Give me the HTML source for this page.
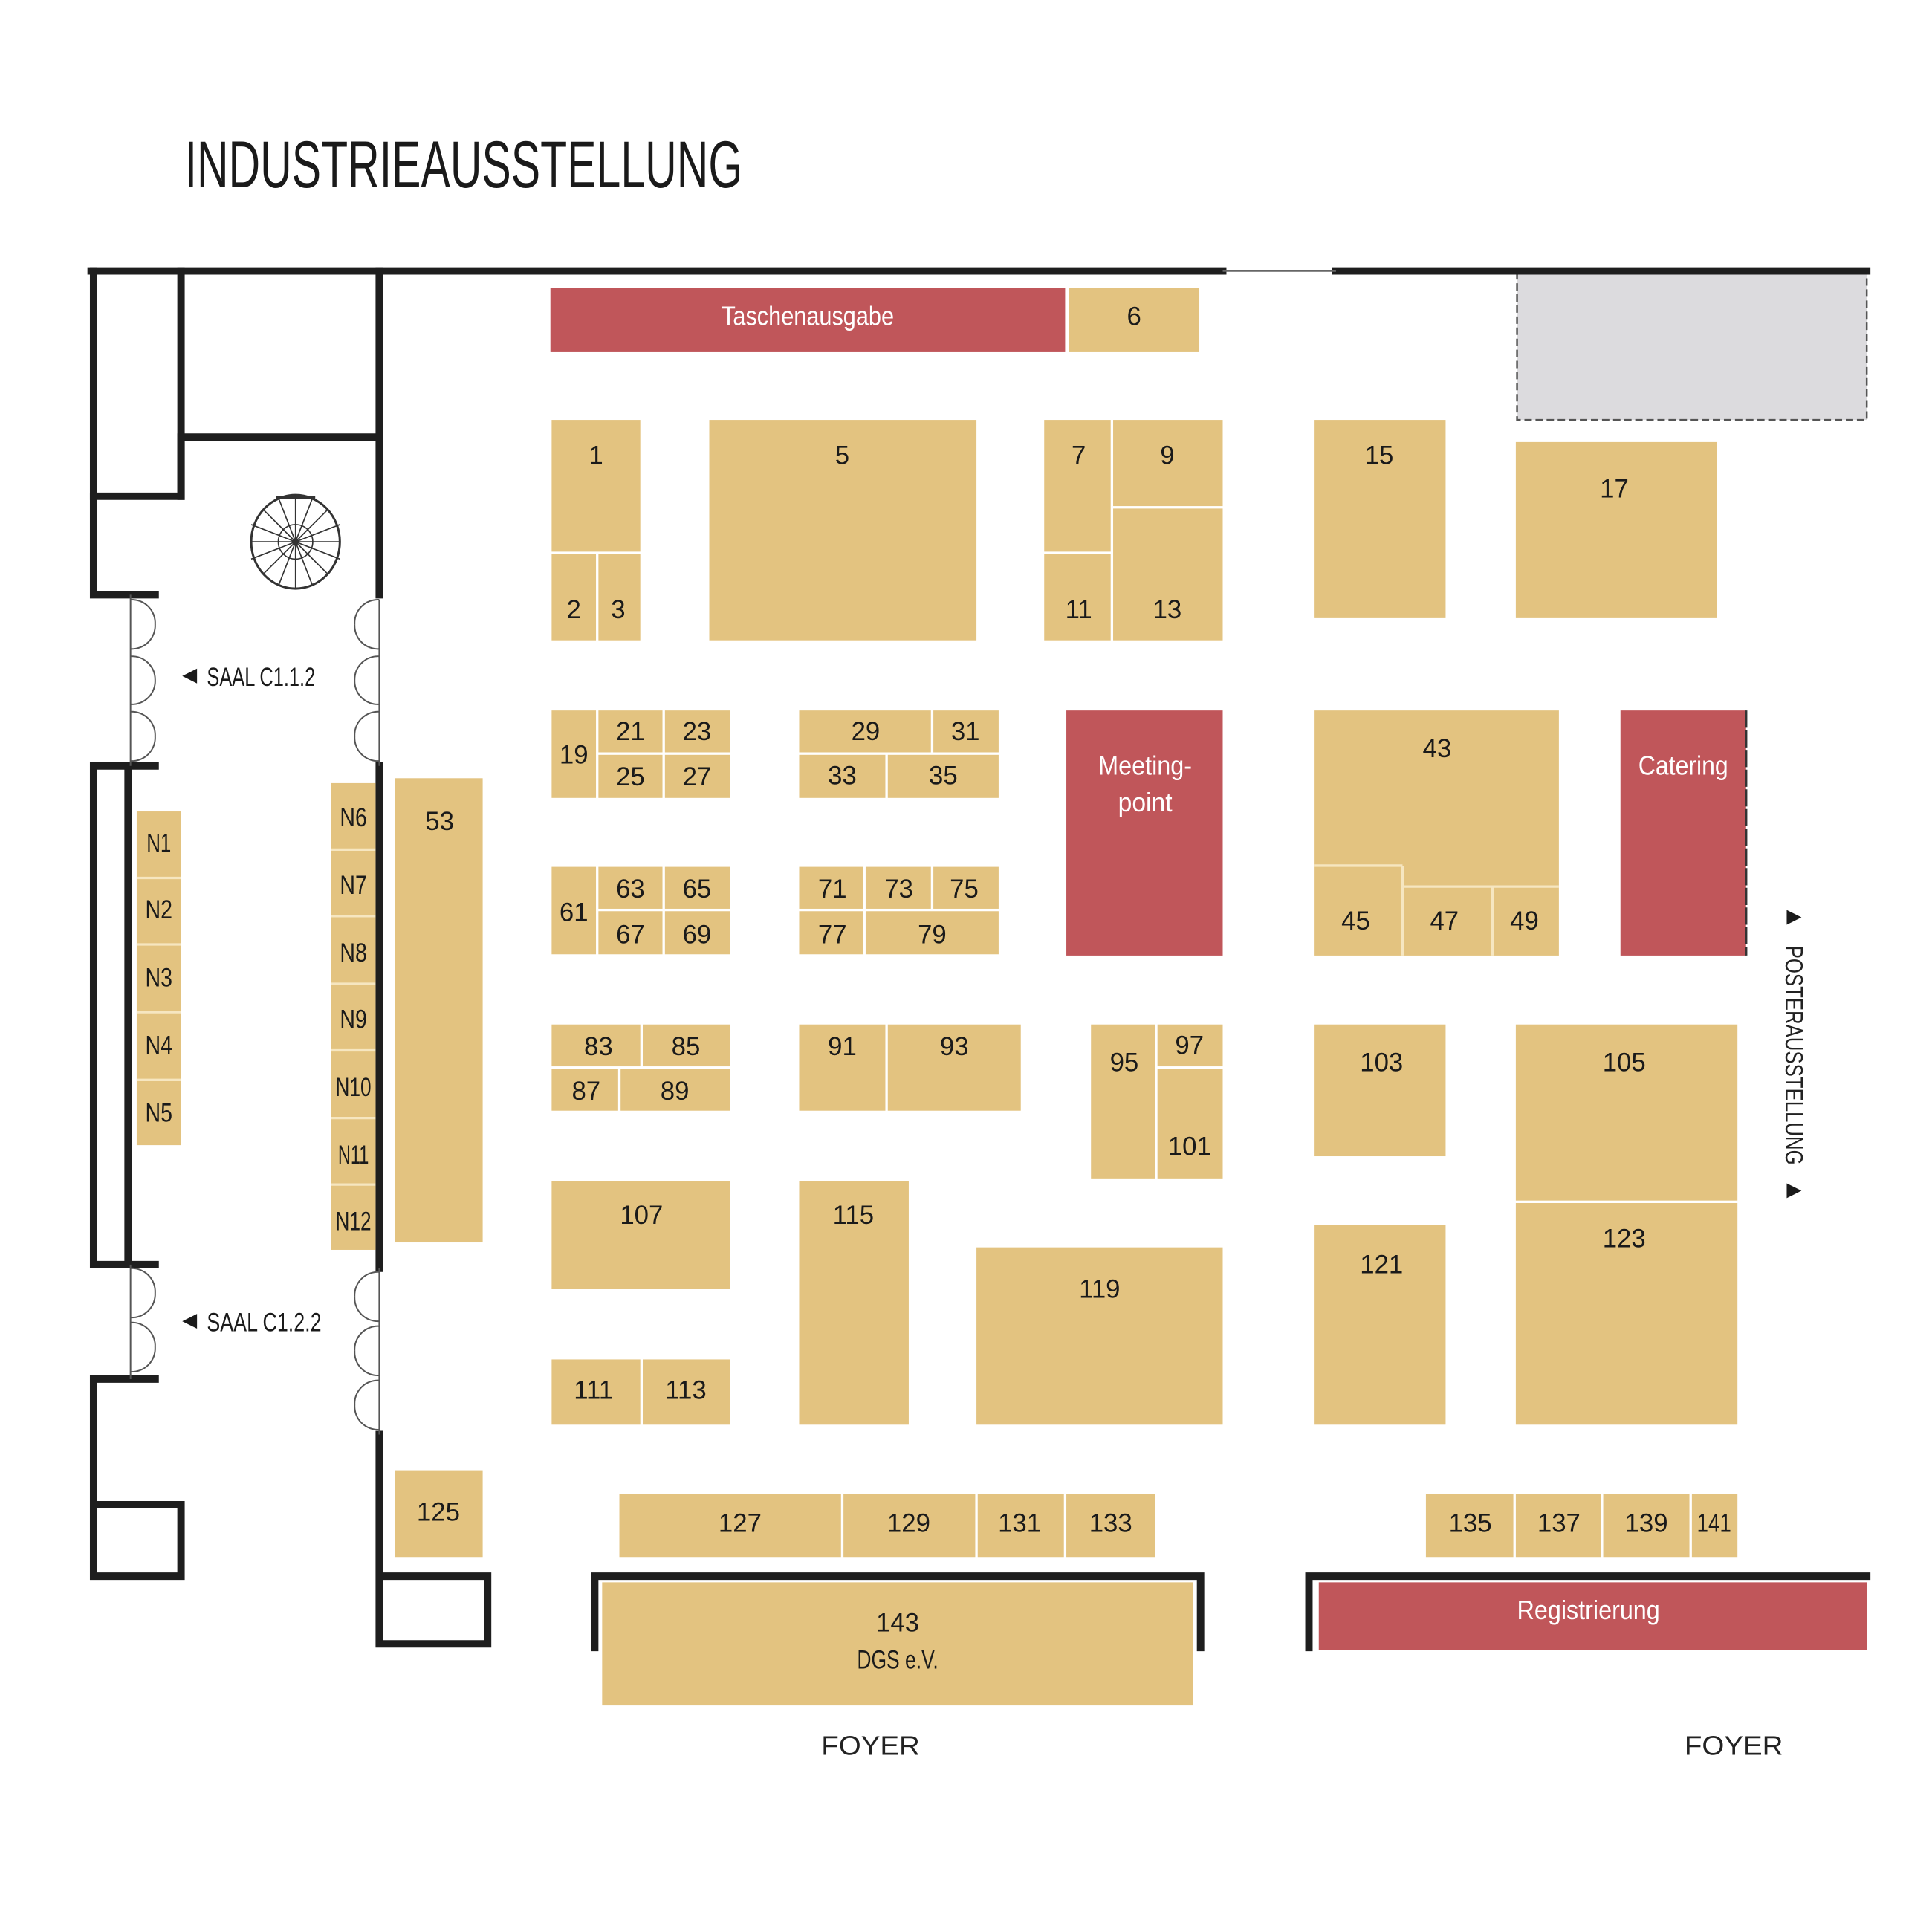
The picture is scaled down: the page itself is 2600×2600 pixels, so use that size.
<!DOCTYPE html>
<html><head><meta charset="utf-8"><style>
html,body{margin:0;padding:0;background:#fff;}
svg{display:block;}
text{font-family:"Liberation Sans Narrow","Liberation Sans",sans-serif;}
.b{fill:#e3c380;}
.r{fill:#c0565a;}
.n{font-size:21px;fill:#1a1a1a;text-anchor:middle;}
.w{font-size:22px;fill:#fff;text-anchor:middle;}
.wall{stroke:#1e1e1e;stroke-width:6;fill:none;stroke-linecap:square;}
.sep{stroke:#f6e6c0;stroke-width:2;}
.door{stroke:#555;stroke-width:1.2;fill:none;}
</style></head><body>
<svg width="2600" height="2600" viewBox="0 0 1569 1569" xmlns="http://www.w3.org/2000/svg">
<rect width="1569" height="1569" fill="#fff"/>
<text x="150" y="152" font-size="54" fill="#1a1a1a" textLength="453" lengthAdjust="spacingAndGlyphs">INDUSTRIEAUSSTELLUNG</text>

<rect x="1232" y="222" width="284" height="119" fill="#dcdbde" stroke="#555" stroke-width="1.5" stroke-dasharray="6,3"/>

<g class="wall">
<line x1="74" y1="220" x2="993" y2="220"/>
<line x1="1085" y1="220" x2="1516" y2="220"/>
<polyline points="76,220 76,483 126,483"/>
<polyline points="76,403 147,403 147,220"/>
<polyline points="147,403 147,355 308,355"/>
<line x1="308" y1="220" x2="308" y2="483"/>
<polyline points="126,622 76,622 76,1027 126,1027"/>
<line x1="104" y1="622" x2="104" y2="1027"/>
<polyline points="126,1120 76,1120 76,1280 147,1280 147,1222 76,1222"/>
<line x1="308" y1="622" x2="308" y2="1030"/>
<polyline points="308,1165 308,1335 396,1335 396,1280 308,1280"/>
<polyline points="483,1338 483,1280 975,1280 975,1338"/>
<polyline points="1063,1338 1063,1280 1516,1280"/>
</g>
<line x1="993" y1="220" x2="1085" y2="220" stroke="#666" stroke-width="1.5"/>

<g class="door">
<line x1="106" y1="483" x2="106" y2="622"/>
<path d="M106,487 A19,19 0 0 1 126,507 M106,527 A19,19 0 0 0 126,507"/>
<path d="M106,533 A19,19 0 0 1 126,552 M106,572 A19,19 0 0 0 126,552"/>
<path d="M106,578 A19,19 0 0 1 126,598 M106,618 A19,19 0 0 0 126,598"/>
<line x1="308" y1="487" x2="308" y2="622"/>
<path d="M308,487 A19,19 0 0 0 288,507 M308,527 A19,19 0 0 1 288,507"/>
<path d="M308,533 A19,19 0 0 0 288,552 M308,572 A19,19 0 0 1 288,552"/>
<path d="M308,578 A19,19 0 0 0 288,598 M308,618 A19,19 0 0 1 288,598"/>
<line x1="106" y1="1027" x2="106" y2="1120"/>
<path d="M106,1030 A19,19 0 0 1 126,1050 M106,1070 A19,19 0 0 0 126,1050"/>
<path d="M106,1074 A19,19 0 0 1 126,1094 M106,1114 A19,19 0 0 0 126,1094"/>
<line x1="308" y1="1030" x2="308" y2="1165"/>
<path d="M308,1033 A19,19 0 0 0 288,1053 M308,1073 A19,19 0 0 1 288,1053"/>
<path d="M308,1077 A19,19 0 0 0 288,1097 M308,1117 A19,19 0 0 1 288,1097"/>
<path d="M308,1121 A19,19 0 0 0 288,1141 M308,1161 A19,19 0 0 1 288,1141"/>
</g>
<g stroke="#333" stroke-width="1" fill="none">
<ellipse cx="240" cy="440" rx="36" ry="38" stroke-width="1.8"/>
<circle cx="240" cy="440" r="14"/>
<path d="M240,402 L240,478 M204,440 L276,440 M214,414 L266,466 M266,414 L214,466 M226,404 L254,476 M254,404 L226,476 M204,426 L276,454 M204,454 L276,426"/>
<line x1="224" y1="404" x2="256" y2="404" stroke-width="2"/>
</g>

<polygon points="148,549 160,543 160,555" fill="#1a1a1a"/>
<text x="168" y="557" font-size="21" fill="#1a1a1a" textLength="88" lengthAdjust="spacingAndGlyphs">SAAL C1.1.2</text>
<polygon points="148,1073 160,1067 160,1079" fill="#1a1a1a"/>
<text x="168" y="1081" font-size="21" fill="#1a1a1a" textLength="93" lengthAdjust="spacingAndGlyphs">SAAL C1.2.2</text>

<rect class="b" x="111" y="659" width="36" height="271"/>
<g class="sep"><line x1="111" y1="713" x2="147" y2="713"/><line x1="111" y1="767" x2="147" y2="767"/><line x1="111" y1="822" x2="147" y2="822"/><line x1="111" y1="877" x2="147" y2="877"/></g>
<text class="n" x="129" y="692" textLength="20" lengthAdjust="spacingAndGlyphs">N1</text><text class="n" x="129" y="746" textLength="22" lengthAdjust="spacingAndGlyphs">N2</text><text class="n" x="129" y="801" textLength="22" lengthAdjust="spacingAndGlyphs">N3</text><text class="n" x="129" y="856" textLength="22" lengthAdjust="spacingAndGlyphs">N4</text><text class="n" x="129" y="911" textLength="22" lengthAdjust="spacingAndGlyphs">N5</text>
<rect class="b" x="269" y="636" width="36" height="379"/>
<g class="sep"><line x1="269" y1="690" x2="305" y2="690"/><line x1="269" y1="744" x2="305" y2="744"/><line x1="269" y1="799" x2="305" y2="799"/><line x1="269" y1="853" x2="305" y2="853"/><line x1="269" y1="908" x2="305" y2="908"/><line x1="269" y1="962" x2="305" y2="962"/></g>
<text class="n" x="287" y="671" textLength="22" lengthAdjust="spacingAndGlyphs">N6</text><text class="n" x="287" y="726" textLength="22" lengthAdjust="spacingAndGlyphs">N7</text><text class="n" x="287" y="781" textLength="22" lengthAdjust="spacingAndGlyphs">N8</text><text class="n" x="287" y="835" textLength="22" lengthAdjust="spacingAndGlyphs">N9</text><text class="n" x="287" y="890" textLength="29" lengthAdjust="spacingAndGlyphs">N10</text><text class="n" x="287" y="945" textLength="25" lengthAdjust="spacingAndGlyphs">N11</text><text class="n" x="287" y="999" textLength="29" lengthAdjust="spacingAndGlyphs">N12</text>

<rect class="r" x="447" y="234" width="418" height="52"/><text class="w" x="656" y="264" textLength="140" lengthAdjust="spacingAndGlyphs">Taschenausgabe</text>
<rect class="b" x="868" y="234" width="106" height="52"/><text class="n" x="921" y="264">6</text>

<rect class="b" x="448" y="341" width="72" height="107"/><text class="n" x="484" y="377">1</text>
<rect class="b" x="448" y="450" width="36" height="70"/><text class="n" x="466" y="502">2</text>
<rect class="b" x="486" y="450" width="34" height="70"/><text class="n" x="502" y="502">3</text>
<rect class="b" x="576" y="341" width="217" height="179"/><text class="n" x="684" y="377">5</text>
<rect class="b" x="848" y="341" width="54" height="107"/><text class="n" x="876" y="377">7</text>
<rect class="b" x="848" y="450" width="54" height="70"/><text class="n" x="876" y="502">11</text>
<rect class="b" x="904" y="341" width="89" height="70"/><text class="n" x="948" y="377">9</text>
<rect class="b" x="904" y="413" width="89" height="107"/><text class="n" x="948" y="502">13</text>
<rect class="b" x="1067" y="341" width="107" height="161"/><text class="n" x="1120" y="377">15</text>
<rect class="b" x="1231" y="359" width="163" height="143"/><text class="n" x="1311" y="404">17</text>

<rect class="b" x="448" y="577" width="36" height="71"/><text class="n" x="466" y="620">19</text>
<rect class="b" x="486" y="577" width="52" height="34"/><text class="n" x="512" y="601">21</text>
<rect class="b" x="540" y="577" width="53" height="34"/><text class="n" x="566" y="601">23</text>
<rect class="b" x="486" y="613" width="52" height="35"/><text class="n" x="512" y="638">25</text>
<rect class="b" x="540" y="613" width="53" height="35"/><text class="n" x="566" y="638">27</text>
<rect class="b" x="649" y="577" width="107" height="34"/><text class="n" x="703" y="601">29</text>
<rect class="b" x="758" y="577" width="53" height="34"/><text class="n" x="784" y="601">31</text>
<rect class="b" x="649" y="613" width="70" height="35"/><text class="n" x="684" y="637">33</text>
<rect class="b" x="721" y="613" width="90" height="35"/><text class="n" x="766" y="637">35</text>
<rect class="r" x="866" y="577" width="127" height="199"/><text class="w" x="930" y="629" textLength="76" lengthAdjust="spacingAndGlyphs">Meeting-</text><text class="w" x="930" y="659" textLength="44" lengthAdjust="spacingAndGlyphs">point</text>
<rect class="b" x="1067" y="577" width="199" height="199"/>
<g class="sep"><line x1="1067" y1="703" x2="1139" y2="703"/><line x1="1139" y1="703" x2="1139" y2="776"/><line x1="1139" y1="720" x2="1266" y2="720"/><line x1="1212" y1="720" x2="1212" y2="776"/></g>
<text class="n" x="1167" y="615">43</text><text class="n" x="1101" y="755">45</text><text class="n" x="1173" y="755">47</text><text class="n" x="1238" y="755">49</text>
<rect class="r" x="1316" y="577" width="102" height="199"/><line x1="1418" y1="577" x2="1418" y2="776" stroke="#333" stroke-width="2" stroke-dasharray="14,2"/><text class="w" x="1367" y="629" textLength="73" lengthAdjust="spacingAndGlyphs">Catering</text>

<rect class="b" x="448" y="704" width="36" height="71"/><text class="n" x="466" y="748">61</text>
<rect class="b" x="486" y="704" width="52" height="34"/><text class="n" x="512" y="729">63</text>
<rect class="b" x="540" y="704" width="53" height="34"/><text class="n" x="566" y="729">65</text>
<rect class="b" x="486" y="740" width="52" height="35"/><text class="n" x="512" y="766">67</text>
<rect class="b" x="540" y="740" width="53" height="35"/><text class="n" x="566" y="766">69</text>
<rect class="b" x="649" y="704" width="52" height="34"/><text class="n" x="676" y="729">71</text>
<rect class="b" x="703" y="704" width="53" height="34"/><text class="n" x="730" y="729">73</text>
<rect class="b" x="758" y="704" width="53" height="34"/><text class="n" x="783" y="729">75</text>
<rect class="b" x="649" y="740" width="52" height="35"/><text class="n" x="676" y="766">77</text>
<rect class="b" x="703" y="740" width="108" height="35"/><text class="n" x="757" y="766">79</text>

<rect class="b" x="448" y="832" width="72" height="34"/><text class="n" x="486" y="857">83</text>
<rect class="b" x="522" y="832" width="71" height="34"/><text class="n" x="557" y="857">85</text>
<rect class="b" x="448" y="868" width="54" height="34"/><text class="n" x="476" y="893">87</text>
<rect class="b" x="504" y="868" width="89" height="34"/><text class="n" x="548" y="893">89</text>
<rect class="b" x="649" y="832" width="70" height="70"/><text class="n" x="684" y="857">91</text>
<rect class="b" x="721" y="832" width="108" height="70"/><text class="n" x="775" y="857">93</text>
<rect class="b" x="886" y="832" width="52" height="125"/><text class="n" x="913" y="870">95</text>
<rect class="b" x="940" y="832" width="53" height="34"/><text class="n" x="966" y="856">97</text>
<rect class="b" x="940" y="868" width="53" height="89"/><text class="n" x="966" y="938">101</text>
<rect class="b" x="1067" y="832" width="107" height="107"/><text class="n" x="1122" y="870">103</text>
<rect class="b" x="1231" y="832" width="180" height="143"/><text class="n" x="1319" y="870">105</text>
<rect class="b" x="1231" y="977" width="180" height="180"/><text class="n" x="1319" y="1013">123</text>

<rect class="b" x="321" y="632" width="71" height="377"/><text class="n" x="357" y="674">53</text>
<rect class="b" x="448" y="959" width="145" height="88"/><text class="n" x="521" y="994">107</text>
<rect class="b" x="448" y="1104" width="72" height="53"/><text class="n" x="482" y="1136">111</text>
<rect class="b" x="522" y="1104" width="71" height="53"/><text class="n" x="557" y="1136">113</text>
<rect class="b" x="649" y="959" width="89" height="198"/><text class="n" x="693" y="994">115</text>
<rect class="b" x="793" y="1013" width="200" height="144"/><text class="n" x="893" y="1054">119</text>
<rect class="b" x="1067" y="995" width="107" height="162"/><text class="n" x="1122" y="1034">121</text>
<rect class="b" x="321" y="1194" width="71" height="71"/><text class="n" x="356" y="1235">125</text>

<rect class="b" x="503" y="1213" width="180" height="52"/><text class="n" x="601" y="1244">127</text>
<rect class="b" x="685" y="1213" width="107" height="52"/><text class="n" x="738" y="1244">129</text>
<rect class="b" x="794" y="1213" width="70" height="52"/><text class="n" x="828" y="1244">131</text>
<rect class="b" x="866" y="1213" width="72" height="52"/><text class="n" x="902" y="1244">133</text>
<rect class="b" x="1158" y="1213" width="71" height="52"/><text class="n" x="1194" y="1244">135</text>
<rect class="b" x="1231" y="1213" width="69" height="52"/><text class="n" x="1266" y="1244">137</text>
<rect class="b" x="1302" y="1213" width="70" height="52"/><text class="n" x="1337" y="1244">139</text>
<rect class="b" x="1374" y="1213" width="37" height="52"/><text class="n" x="1392" y="1244" textLength="28" lengthAdjust="spacingAndGlyphs">141</text>

<rect class="b" x="489" y="1285" width="480" height="100"/><text class="n" x="729" y="1325">143</text><text class="n" x="729" y="1355" textLength="66" lengthAdjust="spacingAndGlyphs">DGS e.V.</text>
<rect class="r" x="1071" y="1285" width="445" height="55"/><text class="w" x="1290" y="1315" textLength="116" lengthAdjust="spacingAndGlyphs">Registrierung</text>

<text x="667" y="1425" font-size="22" fill="#222" textLength="80" lengthAdjust="spacingAndGlyphs" font-family="Liberation Sans, sans-serif">FOYER</text>
<text x="1368" y="1425" font-size="22" fill="#222" textLength="80" lengthAdjust="spacingAndGlyphs" font-family="Liberation Sans, sans-serif">FOYER</text>

<polygon points="1451,739 1463,745 1451,751" fill="#1a1a1a"/>
<polygon points="1451,961 1463,967 1451,973" fill="#1a1a1a"/>
<text transform="translate(1450,768) rotate(90)" font-size="20" fill="#222" font-family="Liberation Sans, sans-serif" textLength="178" lengthAdjust="spacingAndGlyphs">POSTERAUSSTELLUNG</text>
</svg>
</body></html>
